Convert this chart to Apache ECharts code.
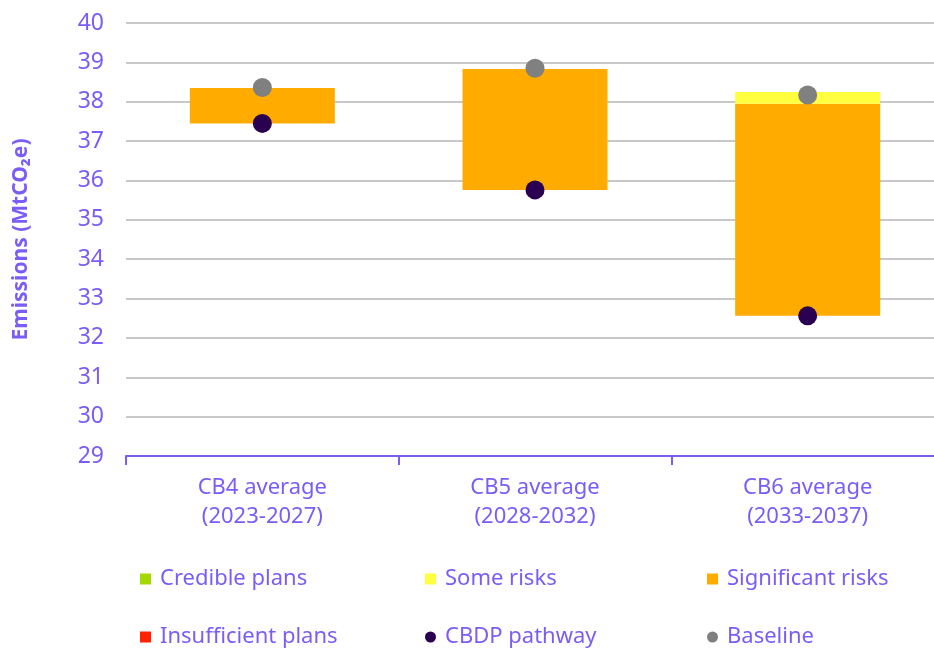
<!DOCTYPE html>
<html>
<head>
<meta charset="utf-8">
<script src="https://cdn.jsdelivr.net/npm/echarts@6/dist/echarts.min.js"></script>
<style>
  html, body { margin: 0; padding: 0; background: #fff; overflow: hidden; }
  #chart { width: 944px; height: 650px; }
</style>
</head>
<body>
<div id="chart"></div>
<script>
// carbon budget averages
var categories = ['CB4 average\n(2023-2027)', 'CB5 average\n(2028-2032)', 'CB6 average\n(2033-2037)'];
var cbdpPathway = [37.45, 35.76, 32.56];
var baseline = [38.36, 38.85, 38.17];
var crediblePlans = [0, 0, 0];
var significantRisks = [0.9, 3.07, 5.39];
var someRisks = [0, 0, 0.3];
var insufficientPlans = [0, 0, 0];
var yTicks = { min: 29, max: 40, interval: 1 };

var purple = '#7c5cf7';
var font = '"Noto Sans", sans-serif';

var chartDom = echarts.init(document.getElementById('chart'));

// one legend per item so every entry sits in its own column
var legendItems = [
  { name: 'Credible plans', icon: 'rect', left: 140, top: 568 },
  { name: 'Some risks', icon: 'rect', left: 425, top: 568 },
  { name: 'Significant risks', icon: 'rect', left: 707, top: 568 },
  { name: 'Insufficient plans', icon: 'rect', left: 140, top: 626 },
  { name: 'CBDP pathway', icon: 'circle', left: 425, top: 626 },
  { name: 'Baseline', icon: 'circle', left: 707, top: 626 }
];
var legends = legendItems.map(function (it) {
  return {
    data: [{ name: it.name, icon: it.icon }],
    left: it.left,
    top: it.top,
    padding: 0,
    itemWidth: 11,
    itemHeight: 11,
    itemGap: 0,
    selectedMode: false,
    textStyle: { color: purple, fontSize: 22, fontFamily: font, padding: [0, 0, 0, 4] }
  };
});

function stackBar (name, values, color) {
  return {
    name: name,
    type: 'bar',
    stack: 'total',
    barWidth: 145,
    data: values,
    itemStyle: { color: color },
    emphasis: { disabled: true }
  };
}

var options = {
  animation: false,
  legend: legends,
  grid: { left: 126, right: 0, top: 23, bottom: 194 },
  xAxis: {
    type: 'category',
    data: categories,
    axisLine: { lineStyle: { color: purple, width: 2 } },
    axisTick: { show: true, length: 9, lineStyle: { color: purple, width: 2 } },
    axisLabel: { color: purple, fontSize: 22, fontFamily: font, lineHeight: 29, margin: 17 }
  },
  yAxis: {
    type: 'value',
    min: yTicks.min,
    max: yTicks.max,
    interval: yTicks.interval,
    name: 'Emissions (MtCO₂e)',
    nameLocation: 'middle',
    nameGap: 94,
    nameTextStyle: { color: purple, fontSize: 21, fontWeight: 'bold', fontFamily: font },
    axisLine: { show: false },
    axisTick: { show: false },
    axisLabel: { color: purple, fontSize: 23, fontFamily: font, margin: 22 },
    splitLine: { lineStyle: { color: '#c8c8c8', width: 2 } }
  },
  series: [
    {
      name: 'base',
      type: 'bar',
      stack: 'total',
      barWidth: 145,
      data: cbdpPathway,
      itemStyle: { color: 'transparent' },
      silent: true
    },
    stackBar('Credible plans', crediblePlans, '#a3d900'),
    stackBar('Significant risks', significantRisks, '#ffab00'),
    stackBar('Some risks', someRisks, '#ffff40'),
    stackBar('Insufficient plans', insufficientPlans, '#ff2200'),
    {
      name: 'CBDP pathway',
      type: 'scatter',
      symbolSize: 19,
      z: 5,
      data: cbdpPathway,
      itemStyle: { color: '#2a0050', opacity: 1 }
    },
    {
      name: 'Baseline',
      type: 'scatter',
      symbolSize: 19,
      z: 5,
      data: baseline,
      itemStyle: { color: '#808080', opacity: 1 }
    }
  ]
};

chartDom.setOption(options);
</script>
</body>
</html>
